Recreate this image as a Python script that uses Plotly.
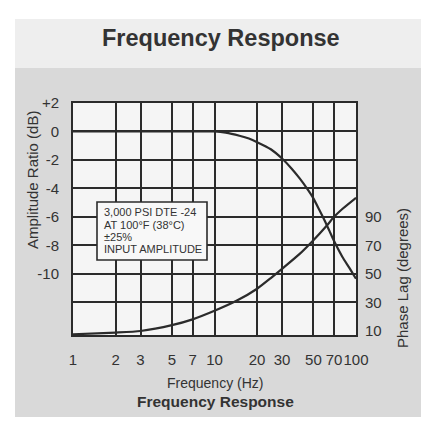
import plotly.graph_objects as go

# ---- data ----
amp_freq = [1, 2, 3, 5, 7, 10, 12, 15, 17.5, 20, 25, 30, 35, 40, 45, 50, 55, 60, 65, 70, 80, 90, 100]
amp_db = [0, 0, 0, 0, 0, 0, -0.08, -0.3, -0.5, -0.75, -1.25, -1.9, -2.6, -3.3, -4.0, -4.7,
          -5.5, -6.25, -7.0, -7.7, -8.8, -9.6, -10.35]

phase_freq = [1, 2, 3, 5, 7, 10, 14.3, 20, 25, 30, 40, 50, 62.7, 70, 80, 100]
phase_deg = [7.5, 8.7, 9.8, 13.9, 18, 24, 31, 39.5, 47, 53.5, 64, 73.6, 84.3, 90, 95.5, 103.4]

x_ticks = [1, 2, 3, 5, 7, 10, 20, 30, 50, 70, 100]
x_labels = ["1", "2", "3", "5", "7", "10", "20", "30", "50", "70", "100"]
y_ticks = [2, 0, -2, -4, -6, -8, -10, -12]
y_labels = ["+2", "0", "-2", "-4", "-6", "-8", "-10", ""]
y2_ticks = [10, 30, 50, 70, 90]
y2_labels = ["10", "30", "50", "70", "90"]

note_lines = ["3,000 PSI DTE -24", "AT 100°F (38°C)", "±25%", "INPUT AMPLITUDE"]

# ---- layout geometry (pixels) ----
W, H = 442, 446
L, R, T, B = 73, 356, 103, 335
def px(x):
    return (x - L) / (R - L)
def py(y):
    return (B - y) / (B - T)

ink = "#2b2b2b"
txt = "#333333"
font = "Liberation Sans, Arial, sans-serif"

fig = go.Figure()
fig.add_trace(go.Scatter(x=amp_freq, y=amp_db, mode="lines",
                         line=dict(color=ink, width=2.2, shape="spline", smoothing=0.6),
                         hoverinfo="skip", showlegend=False))
fig.add_trace(go.Scatter(x=phase_freq, y=phase_deg, mode="lines", yaxis="y2",
                         line=dict(color=ink, width=2.2, shape="spline", smoothing=0.6),
                         hoverinfo="skip", showlegend=False))

shapes = [
    dict(type="rect", xref="paper", yref="paper", x0=px(15), x1=px(421), y0=py(417), y1=py(68),
         fillcolor="#d9d9d9", line=dict(width=0), layer="below"),
    dict(type="rect", xref="paper", yref="paper", x0=px(15), x1=px(421), y0=py(68), y1=py(19),
         fillcolor="#eeeeee", line=dict(width=0), layer="below"),
    dict(type="rect", xref="paper", yref="paper", x0=0, x1=1, y0=0, y1=1,
         fillcolor="#f5f5f5", line=dict(width=0), layer="below"),
    # legend-like note box
    dict(type="rect", xref="paper", yref="paper", x0=px(97), x1=px(207), y0=py(260), y1=py(202),
         fillcolor="#f8f8f8", line=dict(color=ink, width=1.6), layer="above"),
]

annotations = [
    dict(text="<b>Frequency Response</b>", x=px(221), y=py(38), xref="paper", yref="paper",
         showarrow=False, font=dict(family=font, size=23.5, color=txt),
         xanchor="center", yanchor="middle"),
    dict(text="Frequency (Hz)", x=px(215), y=py(383), xref="paper", yref="paper",
         showarrow=False, font=dict(family=font, size=14, color=txt),
         xanchor="center", yanchor="middle"),
    dict(text="<b>Frequency Response</b>", x=px(215), y=py(401), xref="paper", yref="paper",
         showarrow=False, font=dict(family=font, size=15.5, color=txt),
         xanchor="center", yanchor="middle"),
    dict(text="Amplitude Ratio (dB)", x=px(32), y=py(180), xref="paper", yref="paper",
         showarrow=False, textangle=-90, font=dict(family=font, size=15, color=txt),
         xanchor="center", yanchor="middle"),
    dict(text="Phase Lag (degrees)", x=px(402), y=py(278), xref="paper", yref="paper",
         showarrow=False, textangle=-90, font=dict(family=font, size=15, color=txt),
         xanchor="center", yanchor="middle"),
]
for line_text, yc in zip(note_lines, [212, 225, 237, 249]):
    annotations.append(dict(text=line_text, x=px(102), y=py(yc), xref="paper", yref="paper",
                            showarrow=False, xanchor="left", yanchor="middle",
                            font=dict(family=font, size=11, color=txt)))

axis_common = dict(showline=True, linecolor=ink, linewidth=2, mirror=True,
                   gridcolor=ink, gridwidth=2, ticks="", zeroline=False,
                   tickfont=dict(family=font, size=15, color=txt))

fig.update_layout(
    width=W, height=H,
    margin=dict(l=L, r=W - R, t=T, b=H - B, pad=0),
    paper_bgcolor="white", plot_bgcolor="rgba(0,0,0,0)",
    shapes=shapes, annotations=annotations, showlegend=False,
    xaxis=dict(type="log", range=[0, 2], tickvals=x_ticks, ticktext=x_labels,
               tickangle=0, ticklabelstandoff=10, **axis_common),
    yaxis=dict(range=[-14.3, 2], tickvals=y_ticks, ticktext=y_labels,
               ticklabelstandoff=9, **axis_common),
    yaxis2=dict(range=[7, 170], overlaying="y", side="right", showgrid=False,
                tickvals=y2_ticks, ticktext=y2_labels, ticks="", showline=False,
                zeroline=False, ticklabelstandoff=8,
                tickfont=dict(family=font, size=15, color=txt)),
)

fig.write_html("out.html")
